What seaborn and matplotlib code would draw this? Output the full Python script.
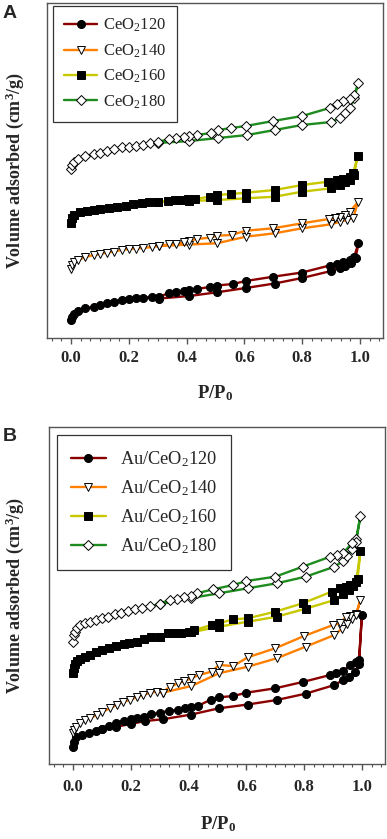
import matplotlib
matplotlib.use("Agg")
import matplotlib.pyplot as plt
import seaborn as sns
import pandas as pd
from matplotlib.ticker import MultipleLocator

# ---------------- data (arbitrary volume units) ----------------
# Panel A
labels_A = ["CeO$_2$120", "CeO$_2$140", "CeO$_2$160", "CeO$_2$180"]

a120_p_ads = [0.0, 0.003, 0.01, 0.025, 0.05, 0.08, 0.10, 0.125, 0.15, 0.175, 0.20, 0.225, 0.25, 0.28, 0.305,
              0.41, 0.505, 0.605, 0.705, 0.80, 0.90, 0.93, 0.95, 0.97, 0.985, 0.995]
a120_v_ads = [18, 21.5, 24.5, 27, 29.7, 31.3, 33, 34.7, 36.3, 38, 38.7, 39.7, 40.3, 41.3, 39.5,
              42, 45.7, 50, 54.5, 60, 67, 70, 72, 75, 80, 94.7]
a120_p_des = [0.98, 0.965, 0.94, 0.92, 0.895, 0.80, 0.70, 0.605, 0.56, 0.505, 0.48, 0.435, 0.41, 0.39, 0.365, 0.34, 0.305]
a120_v_des = [81, 78.5, 76.3, 74.5, 72.5, 65.5, 61.3, 57, 54, 52.5, 51, 49, 48, 47, 46, 45, 41.3]

a140_p_ads = [0.0, 0.003, 0.01, 0.025, 0.05, 0.08, 0.10, 0.125, 0.15, 0.175, 0.20, 0.225, 0.25, 0.28, 0.305,
              0.41, 0.505, 0.605, 0.705, 0.80, 0.90, 0.93, 0.955, 0.977, 0.994]
a140_v_ads = [69, 73, 76, 78, 81, 83, 84, 85.5, 86.5, 88, 89, 89.5, 90, 91, 92,
              93.5, 94.7, 101.3, 104.7, 109.7, 113.7, 116.3, 118, 120.3, 136.3]
a140_p_des = [0.965, 0.948, 0.93, 0.913, 0.893, 0.80, 0.70, 0.605, 0.556, 0.505, 0.48, 0.435, 0.41, 0.39, 0.365, 0.34, 0.305]
a140_v_des = [126.3, 123, 121.3, 119.7, 119, 114.7, 109.7, 107.3, 103, 102.3, 100.3, 99, 97.3, 95.7, 94.3, 93.7, 92]

a160_p_ads = [0.0, 0.002, 0.012, 0.03, 0.055, 0.08, 0.10, 0.13, 0.16, 0.19, 0.215, 0.245, 0.27, 0.30,
              0.41, 0.505, 0.605, 0.705, 0.80, 0.90, 0.93, 0.95, 0.965, 0.98, 0.992]
a160_v_ads = [115, 120, 123, 125.5, 127, 128, 129, 130.3, 131.3, 132.3, 133.5, 134.5, 135.5, 136.3,
              137, 138, 139.7, 141.3, 146.3, 149.7, 153, 156, 158, 163, 182]
a160_p_des = [0.977, 0.965, 0.94, 0.92, 0.89, 0.80, 0.705, 0.605, 0.555, 0.505, 0.48, 0.43, 0.405, 0.385, 0.36, 0.335, 0.30]
a160_v_des = [164.7, 161.3, 159.3, 158, 156.3, 153, 148, 145.3, 144, 143, 141.3, 139, 138.5, 138, 137.5, 137, 136.3]

a180_p_ads = [0.0, 0.003, 0.012, 0.025, 0.05, 0.08, 0.10, 0.125, 0.15, 0.175, 0.20, 0.225, 0.25, 0.275, 0.30,
              0.41, 0.51, 0.61, 0.705, 0.80, 0.90, 0.93, 0.95, 0.965, 0.98, 0.995]
a180_v_ads = [169, 173, 176, 179, 182, 184, 185, 187, 189, 191, 191, 192, 193, 195, 195,
              197, 200, 203, 208, 213, 216, 220, 225, 230, 240, 255]
a180_p_des = [0.98, 0.965, 0.94, 0.92, 0.895, 0.80, 0.70, 0.605, 0.555, 0.51, 0.485, 0.435, 0.41, 0.39, 0.365, 0.34, 0.30]
a180_v_des = [243, 239, 237, 234, 230, 222, 217, 212, 210, 208, 205, 203, 202, 201, 200, 199, 196]

# Panel B
labels_B = ["Au/CeO$_2$120", "Au/CeO$_2$140", "Au/CeO$_2$160", "Au/CeO$_2$180"]

b120_p_ads = [0.0, 0.002, 0.01, 0.03, 0.055, 0.08, 0.10, 0.15, 0.20, 0.25, 0.31,
              0.41, 0.505, 0.605, 0.705, 0.805, 0.905, 0.935, 0.955, 0.975, 0.99, 1.0]
b120_v_ads = [17.3, 22.3, 26.7, 29, 31.3, 33.5, 35, 37.3, 40, 43, 44.7,
              49.5, 55.7, 59.5, 64, 70.3, 79, 84, 87.3, 92, 100, 149]
b120_p_des = [0.99, 0.98, 0.96, 0.935, 0.91, 0.89, 0.795, 0.70, 0.60, 0.555, 0.505, 0.478, 0.432, 0.409,
              0.386, 0.362, 0.333, 0.30, 0.27, 0.245, 0.22, 0.20, 0.175, 0.15, 0.125, 0.10]
b120_v_des = [104, 102.3, 99, 93, 90.7, 89, 82, 75.7, 71.3, 68, 66.7, 64.5, 58, 57,
              56, 54, 53.3, 51.3, 49.7, 47.3, 45.7, 44.7, 43.3, 41.3, 38, 35]

b140_p_ads = [0.0, 0.003, 0.009, 0.024, 0.041, 0.058, 0.082, 0.10, 0.128, 0.151, 0.174, 0.197, 0.22, 0.244,
              0.267, 0.29, 0.31, 0.41, 0.505, 0.605, 0.705, 0.805, 0.905, 0.93, 0.95, 0.965, 0.98, 0.995]
b140_v_ads = [30.7, 34, 37.3, 40.7, 44, 45.7, 49, 52, 55.7, 59, 62.3, 64, 66.7, 69,
              71.3, 72.3, 71.3, 78, 90.7, 97.3, 105.7, 117.3, 129, 135, 140, 145, 150, 164]
b140_p_des = [0.98, 0.96, 0.945, 0.925, 0.90, 0.80, 0.70, 0.605, 0.555, 0.505, 0.48, 0.435, 0.41, 0.385,
              0.365, 0.335, 0.31]
b140_v_des = [149, 148, 147.3, 140.7, 139, 128, 115.7, 106.7, 98, 99, 92.3, 89, 85.7, 83,
              80.7, 77.3, 71.3]

b160_p_ads = [0.0, 0.002, 0.006, 0.013, 0.025, 0.042, 0.06, 0.08, 0.10, 0.125, 0.15, 0.175, 0.195, 0.22,
              0.245, 0.27, 0.30, 0.41, 0.505, 0.605, 0.705, 0.805, 0.905, 0.935, 0.955, 0.97, 0.985, 0.995]
b160_v_ads = [90.7, 95.7, 100, 103, 105.5, 107.5, 109.5, 112, 114, 116.5, 118, 120, 121.3, 122.3,
              124.7, 126.7, 127.3, 131.7, 137.3, 142.3, 147.3, 155.3, 164, 170, 174, 178, 185, 213]
b160_p_des = [0.98, 0.96, 0.945, 0.925, 0.895, 0.795, 0.70, 0.605, 0.555, 0.505, 0.48, 0.42, 0.40, 0.375,
              0.35, 0.33, 0.30]
b160_v_des = [182.3, 179, 177.3, 175.7, 172.3, 160.7, 152.3, 145.7, 144.7, 140.7, 139, 134, 132.3, 131.3,
              131, 130.7, 127.3]

b180_p_ads = [0.0, 0.003, 0.008, 0.015, 0.025, 0.04, 0.06, 0.08, 0.10, 0.12, 0.145, 0.165, 0.19, 0.215,
              0.24, 0.265, 0.30, 0.41, 0.505, 0.605, 0.705, 0.805, 0.905, 0.935, 0.95, 0.965, 0.98, 0.995]
b180_v_ads = [122.3, 129, 132.3, 135.7, 139, 141, 142.3, 144, 145.7, 147.3, 149.7, 151.3, 153, 155,
              156.3, 158, 159.7, 166, 170.7, 175.7, 180.7, 187.3, 197.3, 203, 208, 215, 225, 248]
b180_p_des = [0.98, 0.965, 0.935, 0.915, 0.89, 0.795, 0.70, 0.60, 0.555, 0.485, 0.43, 0.41, 0.385, 0.36,
              0.335, 0.30]
b180_v_des = [222.3, 220.7, 210.7, 209, 207.3, 197.3, 187.3, 183, 179, 174.7, 170.7, 168.5, 167.3, 165.5,
              164, 160.5]

# ---------------- styling ----------------
colors = ["#8B0000", "#FF8000", "#C8C800", "#1E8C1E"]
markers = ["o", "v", "s", "D"]
mfaces = ["black", "white", "black", "white"]
msizes = [5.8, 6.2, 5.2, 5.2]

sns.set_theme(style="ticks")
plt.rcParams["font.family"] = ["Liberation Serif", "DejaVu Serif"]
plt.rcParams["mathtext.fontset"] = "custom"
plt.rcParams["mathtext.rm"] = "Liberation Serif"
plt.rcParams["mathtext.it"] = "Liberation Serif:italic"
plt.rcParams["mathtext.bf"] = "Liberation Serif:bold"

W, H = 387, 839
fig = plt.figure(figsize=(W / 100, H / 100), dpi=100)


def px_rect(l, t, r, b):
    return [l / W, 1 - b / H, (r - l) / W, (b - t) / H]


axA = fig.add_axes(px_rect(47.3, 2.7, 383, 338))
axB = fig.add_axes(px_rect(49.3, 427.3, 385, 764))


def draw(ax, series, labels, ymax, leg_fs, leg_anchor, tick_pad, leg_kw):
    for i, (pa, va, pd_, vd) in enumerate(series):
        p = list(pa) + list(pd_)
        v = list(va) + list(vd)
        df = pd.DataFrame({"p": p, "v": v})
        sns.lineplot(data=df, x="p", y="v", ax=ax, sort=False, estimator=None,
                     color=colors[i], lw=1.7, marker=markers[i], markersize=msizes[i],
                     markerfacecolor=mfaces[i], markeredgecolor="black",
                     markeredgewidth=0.7, label=labels[i])
    ax.set_xlim(-0.082, 1.08)
    ax.set_ylim(0, ymax)
    ax.set_xticks([0.0, 0.2, 0.4, 0.6, 0.8, 1.0])
    ax.set_xticklabels(["0.0", "0.2", "0.4", "0.6", "0.8", "1.0"])
    ax.xaxis.set_minor_locator(MultipleLocator(0.2 / 6))
    ax.set_yticks([])
    ax.tick_params(axis="x", which="major", direction="out", length=4, width=1,
                   color="#555555", pad=tick_pad, labelsize=12)
    ax.tick_params(axis="x", which="minor", direction="out", length=2.5, width=0.8,
                   color="#555555")
    for lab in ax.get_xticklabels():
        lab.set_fontweight("bold")
    for s in ax.spines.values():
        s.set_visible(True)
        s.set_color("#555555")
        s.set_linewidth(1.0)
    ax.set_xlabel(r"P/P$_\mathbf{0}$", fontsize=13.5, fontweight="bold", va="center")
    ax.set_ylabel(r"Volume adsorbed (cm$^\mathbf{3}$/g)", fontsize=13,
                  fontweight="bold", va="center")
    leg = ax.legend(loc="upper left", bbox_to_anchor=leg_anchor, borderaxespad=0,
                    fontsize=leg_fs, frameon=True, fancybox=False, edgecolor="black",
                    **leg_kw)
    leg.get_frame().set_linewidth(0.9)


series_A = [(a120_p_ads, a120_v_ads, a120_p_des, a120_v_des),
            (a140_p_ads, a140_v_ads, a140_p_des, a140_v_des),
            (a160_p_ads, a160_v_ads, a160_p_des, a160_v_des),
            (a180_p_ads, a180_v_ads, a180_p_des, a180_v_des)]
series_B = [(b120_p_ads, b120_v_ads, b120_p_des, b120_v_des),
            (b140_p_ads, b140_v_ads, b140_p_des, b140_v_des),
            (b160_p_ads, b160_v_ads, b160_p_des, b160_v_des),
            (b180_p_ads, b180_v_ads, b180_p_des, b180_v_des)]

draw(axA, series_A, labels_A, 335.3, 12, (0.018, 0.990), 5,
     dict(handlelength=1.95, handletextpad=0.38, labelspacing=0.48, borderpad=0.66))
draw(axB, series_B, labels_B, 336.7, 13.2, (0.022, 0.977), 6.5,
     dict(handlelength=1.9, handletextpad=0.75, labelspacing=0.5, borderpad=0.78))

axA.xaxis.set_label_coords(0.501, (338 - 393) / 335.3)
axB.xaxis.set_label_coords(0.503, (764 - 824) / 336.7)
axA.yaxis.set_label_coords((15 - 47.3) / 335.7, 0.5)
axB.yaxis.set_label_coords((15 - 49.3) / 335.7, 0.5)

fig.text(3 / W, 1 - 5 / H, "A", fontsize=14, fontweight="bold", family="Liberation Sans",
         va="top", ha="left")
fig.text(3 / W, 1 - 428 / H, "B", fontsize=14, fontweight="bold", family="Liberation Sans",
         va="top", ha="left")

fig.savefig("out.png", dpi=100)
